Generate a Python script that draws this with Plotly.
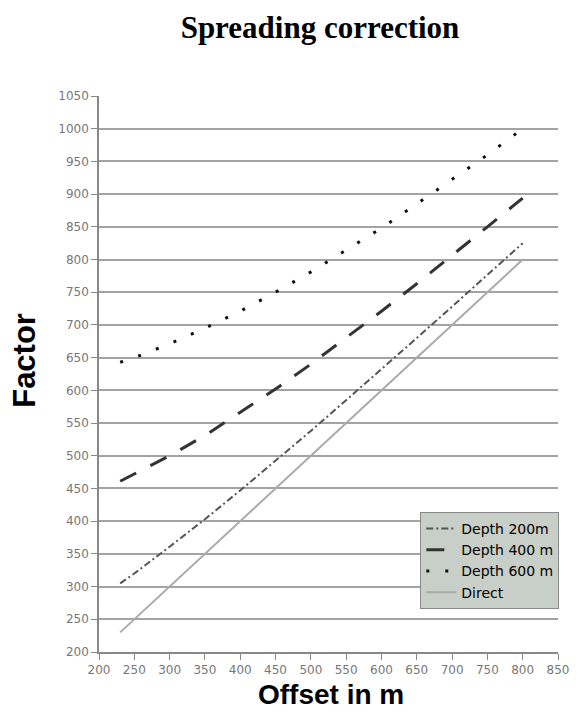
import plotly.graph_objects as go

offset = [230, 250, 300, 350, 400, 450, 500, 550, 600, 650, 700, 750, 800]
depth_200 = [305, 320, 361, 403, 447, 492, 538, 585, 632, 680, 728, 776, 825]
depth_400 = [461, 472, 500, 531, 566, 602, 640, 680, 721, 763, 806, 850, 894]
depth_600 = [643, 650, 671, 695, 721, 750, 781, 814, 848, 885, 922, 960, 1000]
direct = [230, 250, 300, 350, 400, 450, 500, 550, 600, 650, 700, 750, 800]

x_ticks = list(range(200, 851, 50))
y_ticks = list(range(200, 1051, 50))

# page body has an 8px margin; figure placed at (8, 8)
PX0, PY0 = 8, 8
W, H = 573, 708
PL, PR, PT, PB = 99, 569, 96, 652  # plot area in page pixels

fig = go.Figure()
fig.add_trace(go.Scatter(x=offset, y=depth_200, mode="lines", name="Depth 200m",
                         line=dict(color="#555555", width=2, dash="7px,3px,2px,3px")))
fig.add_trace(go.Scatter(x=offset, y=depth_400, mode="lines", name="Depth 400 m",
                         line=dict(color="#333333", width=3, dash="18px,16px")))
fig.add_trace(go.Scatter(x=offset, y=depth_600, mode="lines", name="Depth 600 m",
                         line=dict(color="#111111", width=3, dash="3px,16px")))
fig.add_trace(go.Scatter(x=offset, y=direct, mode="lines", name="Direct",
                         line=dict(color="#aaaaaa", width=2)))

pw = PR - PL
ph = PB - PT

fig.update_layout(
    width=W, height=H,
    margin=dict(l=PL - PX0, r=W + PX0 - PR, t=PT - PY0, b=H + PY0 - PB),
    paper_bgcolor="white", plot_bgcolor="white",
    font=dict(family="DejaVu Sans, Verdana, sans-serif", color="#777777", size=12),
    title=dict(text="<b>Spreading correction</b>", xref="container", yref="container",
               x=(320 - PX0) / W, xanchor="center",
               y=1 - (27 - PY0) / H, yanchor="middle",
               font=dict(family="Liberation Serif, Times New Roman, serif", size=31, color="black")),
    xaxis=dict(range=[200, 850], tickvals=x_ticks, ticks="outside", ticklen=6,
               tickcolor="#888888", showline=True, linecolor="#888888", linewidth=1.5,
               showgrid=False, zeroline=False, tickfont=dict(size=12, color="#777777")),
    yaxis=dict(range=[200, 1050], tickvals=y_ticks, ticks="outside", ticklen=6,
               tickcolor="#888888", showline=True, linecolor="#888888", linewidth=1.5,
               showgrid=True, gridcolor="#a3a3a3", gridwidth=1.5, zeroline=False,
               tickfont=dict(size=12, color="#777777")),
    legend=dict(x=(428 - PL) / pw, y=(PB - 512) / ph, xanchor="left", yanchor="top",
                bgcolor="#c8cfc8", bordercolor="#888888", borderwidth=1,
                font=dict(family="DejaVu Sans, Verdana, sans-serif", size=14, color="black"),
                tracegroupgap=0, itemwidth=30),
    showlegend=True,
)

fig.add_annotation(text="<b>Factor</b>", xref="paper", yref="paper",
                   x=(22 - PL) / pw, y=(PB - 360) / ph, textangle=-90, showarrow=False,
                   xanchor="center", yanchor="middle",
                   font=dict(family="Liberation Sans, Arial, sans-serif", size=31, color="black"))
fig.add_annotation(text="<b>Offset in m</b>", xref="paper", yref="paper",
                   x=(337 - PL) / pw, y=-(694 - PB) / ph, showarrow=False,
                   xanchor="center", yanchor="middle",
                   font=dict(family="Liberation Sans, Arial, sans-serif", size=28, color="black"))

fig.write_html("out.html")
